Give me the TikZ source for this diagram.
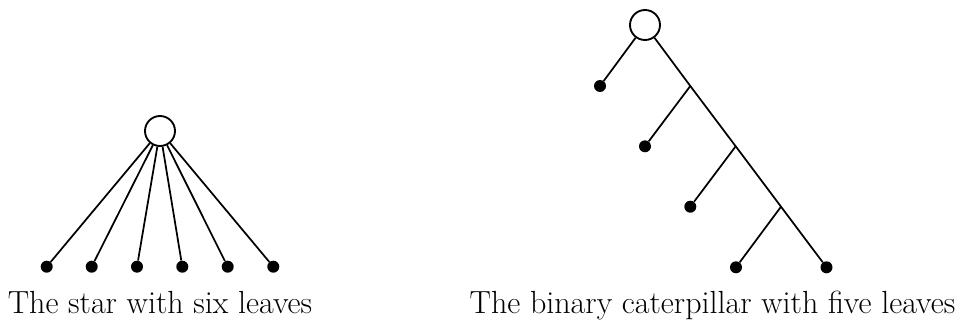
\documentclass[tikz,border=0pt]{standalone}
\begin{document}
\begin{tikzpicture}[x=0.75pt,y=-0.75pt,
  rootnode/.style={circle,draw,line width=1.4pt,minimum size=22.5pt,inner sep=0pt,fill=white},
  leafnode/.style={circle,fill=black,minimum size=9pt,inner sep=0pt},
  edge/.style={line width=1.3pt},
  caption/.style={font=\fontsize{24}{29}\selectfont,anchor=base}]
\useasboundingbox (0,0) rectangle (957,321);
% star
\node[rootnode] (r) at (160,131) {};
\foreach \i/\x in {1/46.7,2/91.7,3/137,4/182.3,5/227.7,6/273.3}{
  \node[leafnode] (s\i) at (\x,266.7) {};
  \draw[edge] (r) -- (s\i);
}
\node[caption] (c1) at (160,313) {The star with six leaves};
% caterpillar
\node[rootnode] (q) at (645,25) {};
\coordinate (b1) at (690.3,86);
\coordinate (b2) at (735.7,146.3);
\coordinate (b3) at (781,206.7);
\node[leafnode] (l1) at (600,86) {};
\node[leafnode] (l2) at (645,146.3) {};
\node[leafnode] (l3) at (690.3,206.7) {};
\node[leafnode] (l4) at (736,267.3) {};
\node[leafnode] (l5) at (826.5,267.3) {};
\draw[edge] (q) -- (l1);
\draw[edge] (q) -- (b1) -- (b2) -- (b3) -- (l5);
\draw[edge] (b1) -- (l2);
\draw[edge] (b2) -- (l3);
\draw[edge] (b3) -- (l4);
\node[caption] (c2) at (712.5,313) {The binary caterpillar with five leaves};
\end{tikzpicture}
\end{document}
